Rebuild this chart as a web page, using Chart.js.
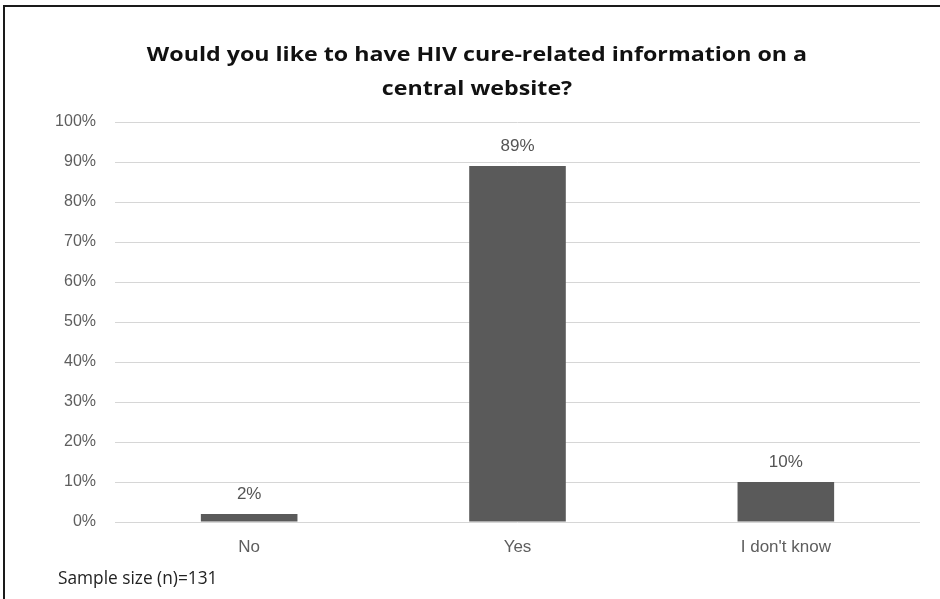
<!DOCTYPE html>
<html>
<head>
<meta charset="utf-8">
<script src="https://cdn.jsdelivr.net/npm/chart.js@4.4.1/dist/chart.umd.min.js"></script>
<style>
  html, body { margin: 0; padding: 0; background: #fff; overflow: hidden; }
  #wrap { position: relative; width: 940px; height: 599px; overflow: hidden; }
  #chart { position: absolute; left: 0; top: 0; }
  .title { position: absolute; left: 0; width: 954px; text-align: center;
           font: bold 20px "Open Sans", sans-serif; color: #111;
           transform: scaleX(1.16); transform-origin: 477px 0; }
  #note { position: absolute; left: 58px; top: 566px; font: 17.3px "Open Sans", sans-serif; color: #222; }
</style>
</head>
<body>
<div id="wrap">
  <canvas id="chart" width="940" height="599"></canvas>
  <div class="title" id="t1" style="top:40px"></div>
  <div class="title" id="t2" style="top:74px"></div>
  <div id="note">Sample size (n)=131</div>
</div>
<script>
const answers = ["No", "Yes", "I don't know"];
const shares = [2, 89, 10];
const titleLines = ["Would you like to have HIV cure-related information on a", "central website?"];

document.getElementById("t1").textContent = titleLines[0];
document.getElementById("t2").textContent = titleLines[1];

// dark frame along the top and left edges
const frame = {
  id: "frame",
  beforeDraw(chart) {
    const ctx = chart.ctx;
    ctx.save();
    ctx.fillStyle = "#1a1a1a";
    ctx.fillRect(3, 5, chart.width, 2);
    ctx.fillRect(3, 5, 2, chart.height);
    ctx.restore();
  },
};

// writes the percentage over each bar
const valueLabels = {
  id: "valueLabels",
  afterDatasetsDraw(chart) {
    const ctx = chart.ctx;
    const meta = chart.getDatasetMeta(0);
    ctx.save();
    ctx.font = '17px "Liberation Sans", Arial, sans-serif';
    ctx.fillStyle = "#555";
    ctx.textAlign = "center";
    ctx.textBaseline = "middle";
    meta.data.forEach((bar, i) => {
      ctx.fillText(shares[i] + "%", bar.x, bar.y - 20);
    });
    ctx.restore();
  },
};

new Chart(document.getElementById("chart"), {
  type: "bar",
  data: {
    labels: answers,
    datasets: [
      {
        data: shares,
        backgroundColor: "#5a5a5a",
        categoryPercentage: 1,
        barPercentage: 0.36,
      },
    ],
  },
  options: {
    responsive: false,
    animation: false,
    layout: {
      padding: { top: 122, right: 20, bottom: 37, left: 0 },
    },
    plugins: {
      legend: { display: false },
      tooltip: { enabled: false },
    },
    scales: {
      y: {
        min: 0,
        max: 100,
        afterFit(scale) {
          scale.width = 115;
        },
        ticks: {
          stepSize: 10,
          padding: 19,
          color: "#5e5e5e",
          font: { family: "Liberation Sans", size: 16 },
          callback: function (value) {
            return value + "%";
          },
        },
        grid: { color: "#d6d6d6", drawTicks: false },
        border: { display: false },
      },
      x: {
        afterFit(scale) {
          scale.height = 40;
        },
        ticks: {
          padding: 7,
          color: "#5e5e5e",
          font: { family: "Liberation Sans", size: 17 },
        },
        grid: { display: false },
        border: { display: false },
      },
    },
  },
  plugins: [frame, valueLabels],
});
</script>
</body>
</html>
